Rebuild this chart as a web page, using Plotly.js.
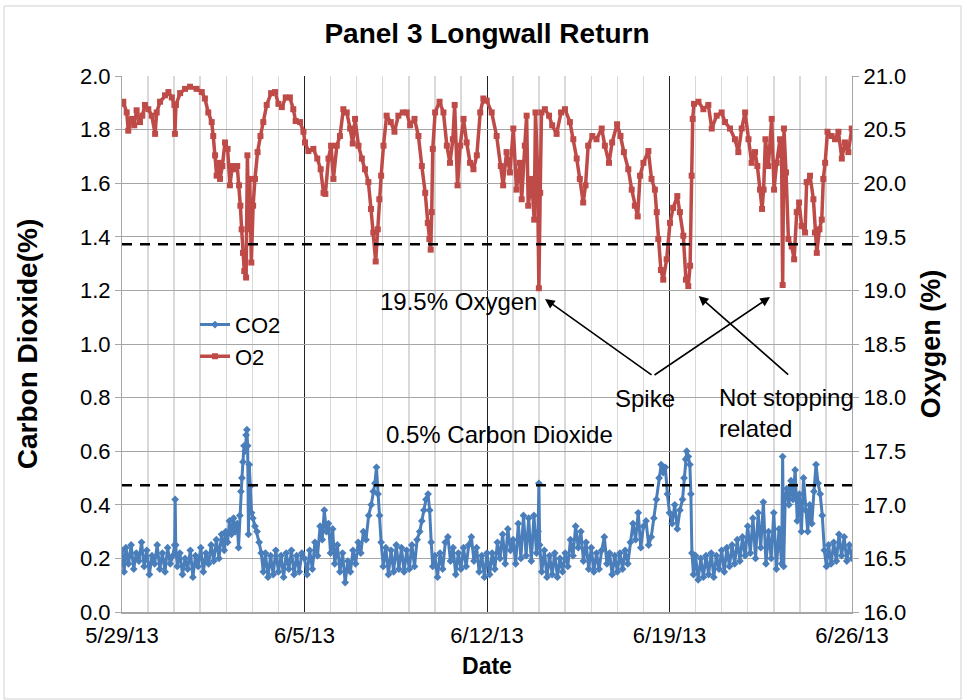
<!DOCTYPE html>
<html><head><meta charset="utf-8">
<script src="https://cdn.plot.ly/plotly-3.0.1.min.js"></script>
<style>html,body{margin:0;padding:0;background:#fff}#chart{width:964px;height:700px}</style>
</head><body><div id="chart"></div>
<script>
// Day offsets are measured from 5/29/13 00:00
const START_UTC = Date.UTC(2013, 4, 29);

const co2Day = [
 0.00,0.08,0.15,0.25,0.35,0.45,0.55,0.65,0.75,0.85,0.95,1.05,1.15,1.25,1.35,1.45,1.55,1.65,1.75,1.85,
 1.95,2.02,2.04,2.06,2.12,2.22,2.32,2.42,2.52,2.62,2.72,2.82,2.92,3.02,3.12,3.22,3.32,3.42,3.52,3.62,
 3.72,3.82,3.92,3.98,4.05,4.12,4.20,4.28,4.35,4.42,4.47,4.52,4.56,4.60,4.64,4.68,4.72,4.76,4.79,4.82,
 4.85,4.88,4.93,4.97,5.02,5.10,5.18,5.26,5.34,5.42,5.50,5.60,5.70,5.80,5.90,6.00,6.10,6.20,6.30,6.40,
 6.50,6.60,6.70,6.80,6.90,
 7.0,7.1,7.2,7.3,7.4,7.5,7.6,7.68,7.76,7.84,7.92,8.0,8.08,8.16,8.26,8.36,8.46,8.56,8.66,8.76,
 8.86,8.96,9.06,9.16,9.26,9.36,9.46,9.56,9.64,9.70,9.76,9.82,9.88,9.94,10.02,10.12,10.22,10.32,10.42,10.52,
 10.62,10.72,10.82,10.92,11.02,11.12,11.22,11.32,11.42,11.5,11.58,11.66,11.74,11.8,11.86,11.92,12.0,12.1,12.2,12.3,
 12.4,12.5,12.6,12.7,12.8,12.9,13.0,13.1,13.2,13.3,13.4,13.5,13.6,13.7,13.8,13.9,
 14.0,14.1,14.2,14.3,14.4,14.5,14.6,14.7,14.8,14.9,15.0,15.1,15.2,15.3,15.4,15.5,15.6,15.7,15.8,15.9,
 15.96,15.99,16.02,16.1,16.2,16.3,16.4,16.5,16.6,16.7,16.8,16.9,17.0,17.1,17.2,17.3,17.4,17.5,17.6,17.7,
 17.8,17.9,18.0,18.1,18.2,18.3,18.4,18.5,18.6,18.7,18.8,18.9,19.0,19.1,19.2,19.3,19.4,19.5,19.6,19.7,
 19.8,19.9,20.0,20.1,20.2,20.3,20.4,20.5,20.6,20.68,20.76,20.84,20.92,21.0,
 21.1,21.2,21.3,21.4,21.5,21.56,21.62,21.66,21.72,21.78,21.82,21.86,21.92,22.0,22.1,22.2,22.3,22.4,22.5,22.6,
 22.7,22.8,22.9,23.0,23.1,23.2,23.3,23.4,23.5,23.6,23.7,23.8,23.9,24.0,24.1,24.2,24.3,24.4,24.5,24.6,
 24.7,24.8,24.9,25.0,25.1,25.2,25.3,25.34,25.38,25.44,25.5,25.58,25.66,25.74,25.82,25.9,25.98,26.06,26.14,26.22,
 26.3,26.38,26.46,26.54,26.62,26.7,26.78,26.86,26.94,27.02,27.1,27.2,27.3,27.4,27.5,27.6,27.7,27.8,27.9,28.0
];
const co2Pct = [
 0.23,0.15,0.24,0.18,0.25,0.16,0.22,0.19,0.26,0.17,0.23,0.14,0.21,0.18,0.25,0.16,0.22,0.15,0.24,0.18,
 0.21,0.25,0.42,0.25,0.17,0.22,0.14,0.20,0.16,0.23,0.13,0.21,0.17,0.24,0.15,0.22,0.18,0.25,0.19,0.27,
 0.20,0.29,0.23,0.30,0.26,0.34,0.29,0.35,0.30,0.33,0.24,0.36,0.45,0.50,0.56,0.62,0.60,0.66,0.68,0.62,
 0.29,0.55,0.47,0.37,0.35,0.32,0.30,0.26,0.22,0.15,0.22,0.13,0.21,0.14,0.23,0.15,0.21,0.13,0.22,0.16,
 0.23,0.14,0.21,0.15,0.22,
 0.20,0.14,0.23,0.16,0.26,0.21,0.32,0.27,0.38,0.30,0.33,0.22,0.31,0.18,0.25,0.15,0.22,0.11,0.19,0.15,
 0.23,0.18,0.26,0.22,0.30,0.27,0.36,0.40,0.45,0.48,0.54,0.44,0.36,0.26,0.17,0.24,0.14,0.23,0.15,0.25,
 0.16,0.24,0.15,0.23,0.16,0.25,0.17,0.27,0.30,0.34,0.38,0.42,0.44,0.38,0.26,0.17,0.21,0.13,0.22,0.16,
 0.26,0.28,0.19,0.24,0.14,0.22,0.16,0.24,0.17,0.25,0.28,0.19,0.24,0.15,0.21,0.13,
 0.22,0.14,0.22,0.16,0.26,0.20,0.29,0.18,0.31,0.23,0.27,0.18,0.33,0.20,0.36,0.21,0.35,0.19,0.36,0.22,
 0.30,0.48,0.25,0.15,0.23,0.13,0.21,0.14,0.22,0.13,0.20,0.15,0.22,0.17,0.27,0.21,0.32,0.24,0.30,0.19,
 0.26,0.16,0.24,0.15,0.22,0.16,0.23,0.28,0.18,0.22,0.14,0.21,0.15,0.22,0.16,0.23,0.18,0.26,0.33,0.27,
 0.37,0.24,0.32,0.34,0.25,0.28,0.35,0.42,0.50,0.55,0.52,0.54,0.44,0.37,
 0.33,0.40,0.31,0.38,0.42,0.50,0.57,0.60,0.58,0.55,0.44,0.22,0.14,0.21,0.12,0.20,0.13,0.21,0.14,0.22,
 0.13,0.21,0.16,0.23,0.15,0.24,0.17,0.25,0.18,0.27,0.19,0.28,0.21,0.32,0.22,0.35,0.20,0.37,0.24,0.41,
 0.18,0.30,0.20,0.37,0.16,0.31,0.18,0.58,0.17,0.43,0.46,0.40,0.49,0.42,0.53,0.34,0.44,0.30,0.50,0.38,
 0.30,0.40,0.33,0.45,0.55,0.48,0.44,0.36,0.23,0.17,0.25,0.18,0.26,0.19,0.29,0.21,0.28,0.19,0.25,0.20
];

const o2Day = [
 0.00,0.05,0.18,0.24,0.37,0.47,0.56,0.69,0.78,0.88,1.01,1.14,1.27,1.33,1.46,1.65,1.78,1.91,2.01,2.03,
 2.07,2.23,2.42,2.61,2.86,3.06,3.18,3.31,3.44,3.50,3.57,3.63,3.70,3.76,3.85,3.95,4.05,4.14,4.23,4.34,
 4.42,4.49,4.54,4.59,4.64,4.69,4.76,4.81,4.86,4.90,4.96,5.03,5.10,5.20,5.31,5.42,5.55,5.72,5.87,6.00,
 6.13,6.28,6.44,6.57,6.66,6.83,6.96,
 7.02,7.15,7.34,7.49,7.62,7.73,7.80,7.92,8.02,8.11,8.24,8.36,8.49,8.62,8.75,8.85,8.94,9.07,9.20,9.32,
 9.45,9.55,9.64,9.73,9.81,9.87,9.94,10.03,10.15,10.31,10.45,10.60,10.77,10.92,11.05,11.22,11.37,11.50,11.63,11.73,
 11.79,11.84,11.88,11.92,12.01,12.18,12.33,12.46,12.58,12.69,12.76,12.87,12.97,13.10,13.22,13.35,13.48,13.61,13.74,13.86,
 13.99,
 14.18,14.37,14.53,14.62,14.75,14.88,15.01,15.13,15.26,15.33,15.45,15.52,15.58,15.71,15.81,15.86,15.93,15.99,16.04,16.09,
 16.22,16.38,16.50,16.67,16.84,16.99,17.18,17.31,17.44,17.56,17.69,17.78,17.88,18.04,18.20,18.40,18.52,18.68,18.80,18.99,
 19.12,19.25,19.42,19.55,19.67,19.78,19.87,20.00,20.19,20.31,20.44,20.51,20.57,20.67,20.76,20.89,21.02,21.14,
 21.30,21.40,21.53,21.63,21.72,21.79,21.85,21.89,21.94,22.11,22.30,22.49,22.62,22.81,23.00,23.13,23.32,23.51,23.64,23.77,
 23.90,24.03,24.15,24.28,24.37,24.47,24.55,24.61,24.68,24.79,24.92,25.01,25.11,25.24,25.30,25.34,25.39,25.47,25.56,25.69,
 25.78,25.88,25.97,26.07,26.20,26.26,26.39,26.52,26.58,26.65,26.75,26.84,26.90,26.97,27.06,27.22,27.35,27.48,27.61,27.73,
 27.86,27.99
];
const o2Pct = [
 20.74,20.76,20.66,20.49,20.60,20.54,20.68,20.57,20.63,20.73,20.69,20.63,20.46,20.66,20.76,20.82,20.85,20.80,20.73,20.46,
 20.73,20.84,20.88,20.90,20.88,20.85,20.79,20.66,20.57,20.44,20.26,20.07,20.19,20.04,20.16,20.38,20.32,19.98,20.16,20.13,
 20.16,19.98,19.79,19.57,19.35,19.18,19.12,20.26,19.57,20.04,19.26,19.79,20.04,20.29,20.44,20.57,20.73,20.84,20.85,20.74,
 20.71,20.80,20.80,20.69,20.58,20.57,20.48,
 20.38,20.30,20.32,20.23,20.13,19.91,19.90,20.23,20.35,20.04,20.35,20.44,20.69,20.66,20.51,20.37,20.60,20.35,20.23,20.13,
 20.01,19.76,19.54,19.27,19.57,19.85,20.07,20.35,20.63,20.57,20.48,20.63,20.66,20.66,20.54,20.60,20.44,20.16,19.91,19.63,
 19.48,19.38,19.73,20.32,20.66,20.76,20.66,20.35,20.19,20.41,20.73,19.98,20.35,20.60,20.38,20.19,20.13,20.26,20.66,20.79,
 20.77,
 20.66,20.44,20.16,19.98,20.29,20.10,20.51,19.94,20.19,19.85,20.35,20.63,19.79,20.04,19.66,20.66,20.19,19.02,19.91,20.66,
 20.69,20.63,20.54,20.46,20.66,20.69,20.57,20.41,20.23,20.04,19.82,19.98,20.35,20.44,20.41,20.51,20.35,20.19,20.38,20.55,
 20.44,20.29,20.13,19.94,19.79,19.69,20.07,20.19,20.30,20.04,19.94,19.73,19.48,19.19,19.10,19.29,19.63,19.77,
 19.88,19.73,19.51,19.10,19.04,19.23,20.07,20.60,20.74,20.76,20.69,20.73,20.51,20.63,20.66,20.57,20.51,20.41,20.29,20.51,
 20.66,20.41,20.19,20.29,20.16,19.94,19.76,19.94,20.41,20.16,20.60,19.94,20.19,20.41,20.26,19.05,20.51,20.10,19.48,19.41,
 19.29,19.73,19.82,19.60,19.54,20.01,20.07,19.85,19.54,19.35,19.57,19.66,20.04,20.19,20.48,20.44,20.41,20.48,20.23,20.38,
 20.29,20.51
];

const co2LimitPct = 0.473;   // dashed line, left axis
const o2LimitPct = 19.43;    // dashed line, right axis
const seriesNames = ['CO2', 'O2'];

function toDate(d) {
  return new Date(START_UTC + d * 86400000).toISOString().replace('T', ' ').slice(0, 19);
}

const FONT = 'Arial, "Liberation Sans", sans-serif';
const GRID = '#a6a6a6';

const traces = [
  {
    name: seriesNames[0], x: co2Day.map(toDate), y: co2Pct, yaxis: 'y',
    mode: 'lines+markers', line: {color: '#4A7EBB', width: 3},
    marker: {symbol: 'diamond', size: 6, color: '#4A7EBB'}
  },
  {
    name: seriesNames[1], x: o2Day.map(toDate), y: o2Pct, yaxis: 'y2',
    mode: 'lines+markers', line: {color: '#BE4B48', width: 3.5},
    marker: {symbol: 'square', size: 6, color: '#BE4B48'}
  }
];

const layout = {
  width: 964, height: 700,
  margin: {l: 122, r: 112, t: 76, b: 88},
  paper_bgcolor: '#fff', plot_bgcolor: '#fff',
  font: {family: FONT, color: '#000'},
  title: {text: 'Panel 3 Longwall Return', font: {family: FONT, size: 28, weight: 'bold'},
          x: 0.5, xref: 'paper', xanchor: 'center', y: 1 - 33/700, yref: 'container', yanchor: 'middle'},
  showlegend: true,
  legend: {x: 0.1, y: 0.575, xanchor: 'left', yanchor: 'top', bgcolor: 'rgba(0,0,0,0)',
           font: {family: FONT, size: 22}},
  xaxis: {
    type: 'date', range: [toDate(0), toDate(28)],
    tickmode: 'linear', tick0: toDate(0), dtick: 7 * 86400000, tickformat: '%-m/%-d/%y',
    showgrid: true, gridcolor: '#222', gridwidth: 1,
    minor: {dtick: 86400000, tick0: toDate(0), showgrid: true, gridcolor: '#d9d9d9', gridwidth: 1.5},
    showline: true, linecolor: GRID, linewidth: 2, ticks: '', zeroline: false,
    ticklabelstandoff: 3,
    tickfont: {family: FONT, size: 22},
    title: {text: 'Date', font: {family: FONT, size: 23, weight: 'bold'}, standoff: 10}
  },
  yaxis: {
    range: [0, 2], dtick: 0.2, tickformat: '.1f',
    showgrid: true, gridcolor: GRID, gridwidth: 1, zeroline: false,
    showline: true, linecolor: GRID, linewidth: 1, ticks: 'outside', ticklen: 6, tickcolor: GRID,
    tickfont: {family: FONT, size: 22},
    title: {text: 'Carbon Dioxide(%)', font: {family: FONT, size: 28, weight: 'bold'}, standoff: 34}
  },
  yaxis2: {
    overlaying: 'y', side: 'right', range: [16, 21], dtick: 0.5, tickformat: '.1f',
    showgrid: false, zeroline: false,
    showline: true, linecolor: GRID, linewidth: 1, ticks: 'outside', ticklen: 6, tickcolor: GRID,
    tickfont: {family: FONT, size: 22},
    title: {text: 'Oxygen (%)', font: {family: FONT, size: 27, weight: 'bold'}, standoff: 15}
  },
  shapes: [
    {type: 'line', xref: 'paper', x0: 0, x1: 1, yref: 'y', y0: co2LimitPct, y1: co2LimitPct,
     line: {color: '#000', width: 2.5, dash: '10px,8px'}},
    {type: 'line', xref: 'paper', x0: 0, x1: 1, yref: 'y2', y0: o2LimitPct, y1: o2LimitPct,
     line: {color: '#000', width: 2.5, dash: '10px,8px'}},
    {type: 'rect', xref: 'paper', yref: 'paper', x0: -0.1616, x1: 1.1493, y0: -0.1623, y1: 1.1306,
     line: {color: '#d0d0d0', width: 1}, layer: 'below'}
  ],
  annotations: [
    {xref: 'paper', yref: 'paper', x: 0.4616, y: 0.5784, text: '19.5% Oxygen', showarrow: false,
     font: {family: FONT, size: 24}, xanchor: 'center', yanchor: 'middle'},
    {xref: 'paper', yref: 'paper', x: 0.5178, y: 0.332, text: '0.5% Carbon Dioxide', showarrow: false,
     font: {family: FONT, size: 24}, xanchor: 'center', yanchor: 'middle'},
    {xref: 'paper', yref: 'paper', x: 0.7164, y: 0.399, text: 'Spike', showarrow: false,
     font: {family: FONT, size: 24}, xanchor: 'center', yanchor: 'middle'},
    {xref: 'paper', yref: 'paper', x: 0.815, y: 0.3713, text: 'Not stopping<br>related', showarrow: false,
     font: {family: FONT, size: 24}, xanchor: 'left', yanchor: 'middle', align: 'left'},
    {xref: 'paper', yref: 'paper', x: 0.5795, y: 0.584, text: '', showarrow: true,
     ax: 108, ay: 77, arrowhead: 2, arrowsize: 1.2, arrowwidth: 1.6, arrowcolor: '#000', standoff: 0},
    {xref: 'paper', yref: 'paper', x: 0.8877, y: 0.5877, text: '', showarrow: true,
     ax: -117, ay: 79, arrowhead: 2, arrowsize: 1.2, arrowwidth: 1.6, arrowcolor: '#000', standoff: 0},
    {xref: 'paper', yref: 'paper', x: 0.790, y: 0.5896, text: '', showarrow: true,
     ax: 91, ay: 80, arrowhead: 2, arrowsize: 1.2, arrowwidth: 1.6, arrowcolor: '#000', standoff: 0}
  ]
};

Plotly.newPlot('chart', traces, layout, {displayModeBar: false, staticPlot: true});
</script>
</body></html>
